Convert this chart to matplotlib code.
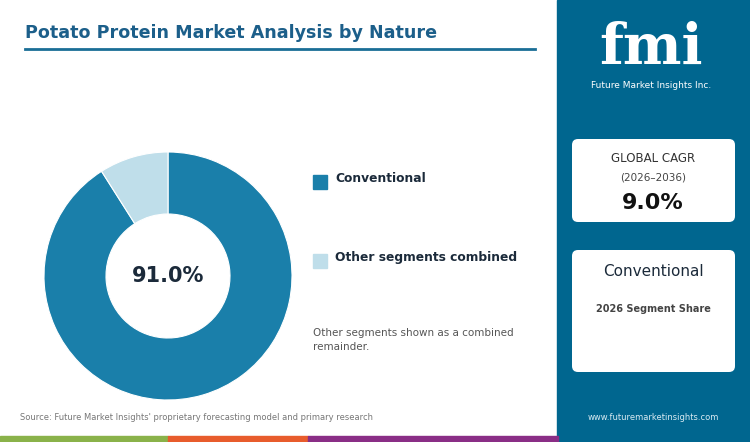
import matplotlib
matplotlib.use("Agg")
import matplotlib.pyplot as plt
from matplotlib.patches import Rectangle, FancyBboxPatch

labels = ["Conventional", "Other segments combined"]
shares = [91.0, 9.0]
colors = ["#1a7faa", "#bfdeea"]
cagr = "9.0%"

W, H = 750, 442
fig = plt.figure(figsize=(7.5, 4.42), dpi=100)
bg = fig.add_axes([0, 0, 1, 1])
bg.set_xlim(0, W); bg.set_ylim(H, 0); bg.axis("off")

bg.add_patch(Rectangle((557, 0), W - 557, H, color="#00668f"))
bg.add_patch(Rectangle((0, 436), 168, 6, color="#8ab24a"))
bg.add_patch(Rectangle((168, 436), 140, 6, color="#e85c2c"))
bg.add_patch(Rectangle((308, 436), 250, 6, color="#8a2e86"))

bg.text(25, 33, "Potato Protein Market Analysis by Nature", fontsize=12.6, fontweight="bold",
        color="#1c5f8a", va="center")
bg.plot([25, 535], [49, 49], color="#1a6e96", lw=2)

# logo
bg.text(651, 48, "fmi", fontsize=40, fontweight="bold", color="white", ha="center", va="center",
        family="DejaVu Serif")
bg.text(651, 86, "Future Market Insights Inc.", fontsize=6.5, color="white", ha="center", va="center")

for y0, y1 in [(139, 222), (250, 372)]:
    bg.add_patch(FancyBboxPatch((572, y0), 163, y1 - y0, boxstyle="round,pad=0,rounding_size=6",
                                facecolor="white", edgecolor="none"))
bg.text(653, 158, "GLOBAL CAGR", fontsize=8.5, color="#333", ha="center", va="center")
bg.text(653, 178, "(2026\u20132036)", fontsize=7.5, color="#444", ha="center", va="center")
bg.text(653, 203, cagr, fontsize=16, fontweight="bold", color="#111", ha="center", va="center")
bg.text(653, 272, labels[0], fontsize=11, color="#1b2a3a", ha="center", va="center")
bg.text(653, 309, "2026 Segment Share", fontsize=7, fontweight="bold", color="#444", ha="center", va="center")

bg.add_patch(Rectangle((313, 175), 14, 14, color=colors[0]))
bg.add_patch(Rectangle((313, 254), 14, 14, color=colors[1]))
bg.text(335, 179, labels[0], fontsize=8.8, fontweight="bold", color="#1b2a3a", va="center")
bg.text(335, 258, labels[1], fontsize=8.8, fontweight="bold", color="#1b2a3a", va="center")
bg.text(313, 340, "Other segments shown as a combined\nremainder.", fontsize=7.5, color="#555",
        va="center", linespacing=1.4)
bg.text(20, 418, "Source: Future Market Insights' proprietary forecasting model and primary research",
        fontsize=6, color="#777", va="center")
bg.text(653, 418, "www.futuremarketinsights.com", fontsize=6, color="#d8eaf2", ha="center", va="center")

r = 124
ax = fig.add_axes([(168 - r) / W, 1 - (276 + r) / H, 2 * r / W, 2 * r / H])
ax.pie(shares, colors=colors, startangle=90, counterclock=False,
       wedgeprops=dict(width=0.5, edgecolor="white", linewidth=0.8))
ax.set_xlim(-1, 1); ax.set_ylim(-1, 1)
ax.set_aspect("auto")
ax.text(0, 0, f"{shares[0]:.1f}%", fontsize=15, fontweight="bold", color="#1b2a3a", ha="center", va="center")

fig.savefig("out.png", dpi=100)
